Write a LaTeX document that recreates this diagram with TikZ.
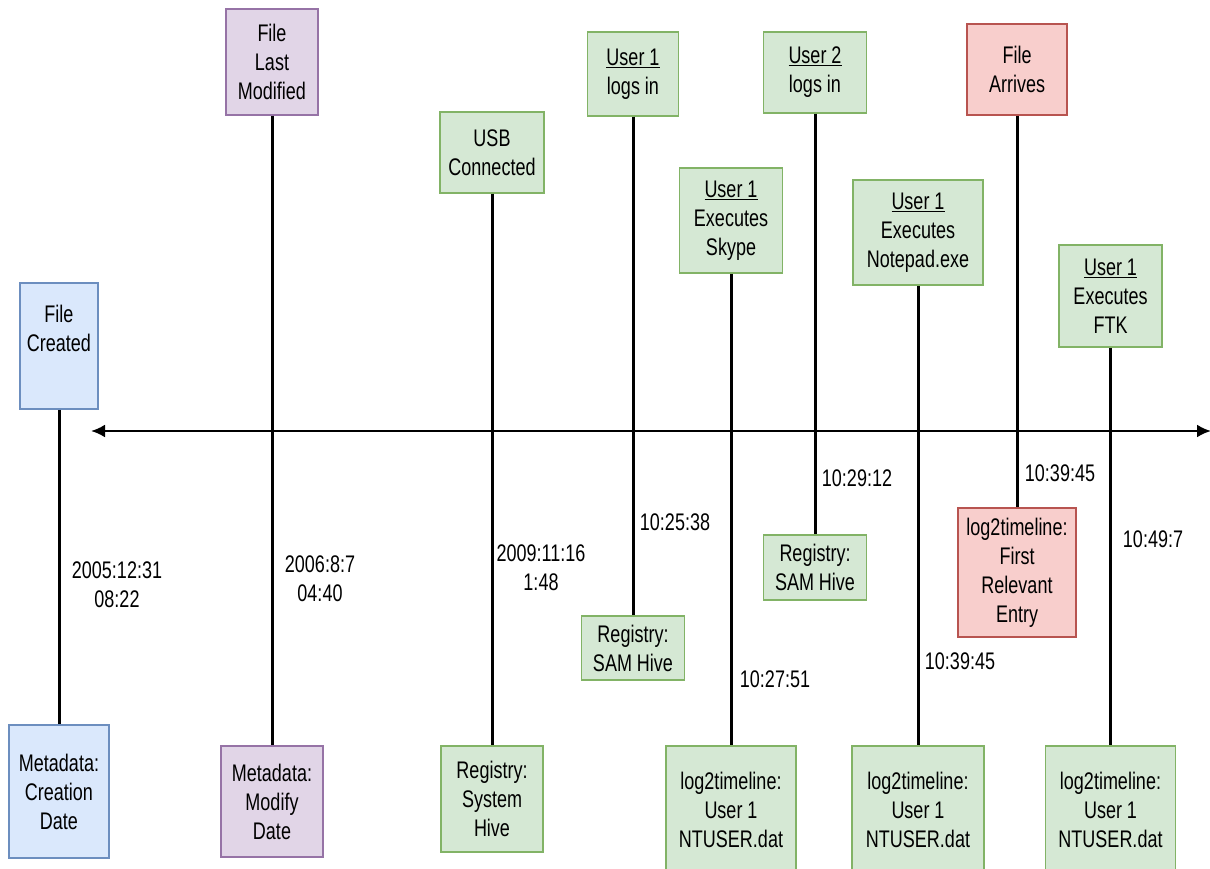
\documentclass[tikz,border=0pt]{standalone}
\usepackage{fontspec}
\setmainfont{Liberation Sans}[FakeStretch=0.75]
\usetikzlibrary{arrows.meta}
\definecolor{bluefill}{HTML}{DAE8FC}
\definecolor{blueline}{HTML}{6C8EBF}
\definecolor{purplefill}{HTML}{E1D5E7}
\definecolor{purpleline}{HTML}{9673A6}
\definecolor{greenfill}{HTML}{D5E8D4}
\definecolor{greenline}{HTML}{82B366}
\definecolor{redfill}{HTML}{F8CECC}
\definecolor{redline}{HTML}{B85450}
\tikzset{
every picture/.style={
line width=1.5pt
}}
\tikzset{
  evt/.style={rectangle, draw, align=center, inner sep=2pt,
    font=\fontsize{24}{29}\selectfont},
  bluebox/.style={evt, fill=bluefill, draw=blueline},
  purplebox/.style={evt, fill=purplefill, draw=purpleline},
  greenbox/.style={evt, fill=greenfill, draw=greenline},
  redbox/.style={evt, fill=redfill, draw=redline},
  stamp/.style={align=center, inner sep=0pt, font=\fontsize{24}{29}\selectfont},
  link/.style={line width=3pt}
}

\begin{document}
\begin{tikzpicture}[x=1pt,y=-1pt]
\useasboundingbox (0,0) rectangle (1210,869);
   % time axis
   \draw [line width=2.5pt, {Latex[length=14pt,width=13pt]}-{Latex[length=14pt,width=13pt]}]
     (91,431) -- (1211,431);
   % 
   % events above the axis:
   \node [bluebox, minimum width=78, minimum height=126] (created) at (59,346)
     {File\\Created\\[6pt]\mbox{}};
   \node [purplebox, minimum width=92, minimum height=106] (lastmod) at (272,62)
     {File\\Last\\Modified};
   \node [greenbox, minimum width=104, minimum height=81] (usb) at (492,152.5)
     {USB\\Connected};
   \node [greenbox, minimum width=91, minimum height=84] (login1) at (633,74)
     {\underline{User 1}\\logs in};
   \node [greenbox, minimum width=103, minimum height=105] (skype) at (731,220.5)
     {\underline{User 1}\\Executes\\Skype};
   \node [greenbox, minimum width=103, minimum height=81] (login2) at (815,72.5)
     {\underline{User 2}\\logs in};
   \node [greenbox, minimum width=130, minimum height=105] (notepad) at (918,232.5)
     {\underline{User 1}\\Executes\\Notepad.exe};
   \node [redbox, minimum width=100, minimum height=91] (arrives) at (1017,69.5)
     {File\\Arrives};
   \node [greenbox, minimum width=103, minimum height=102] (ftk) at (1110.5,296)
     {\underline{User 1}\\Executes\\FTK};
   % 
   % sources below the axis:
   \node [bluebox, minimum width=100, minimum height=133] (creation) at (59,791.5)
     {Metadata:\\Creation\\Date};
   \node [purplebox, minimum width=102, minimum height=111] (modify) at (272,801.5)
     {Metadata:\\Modify\\Date};
   \node [greenbox, minimum width=102, minimum height=106] (system) at (492,799)
     {Registry:\\System\\Hive};
   \node [greenbox, minimum width=103, minimum height=64] (sam1) at (633,648)
     {Registry:\\SAM Hive};
   \node [greenbox, minimum width=130, minimum height=128] (ntuser1) at (731,810)
     {log2timeline:\\User 1\\NTUSER.dat};
   \node [greenbox, minimum width=103, minimum height=65] (sam2) at (815,567.5)
     {Registry:\\SAM Hive};
   \node [greenbox, minimum width=132, minimum height=128] (ntuser2) at (918,810)
     {log2timeline:\\User 1\\NTUSER.dat};
   \node [redbox, minimum width=118, minimum height=129] (first) at (1017,572.5)
     {log2timeline:\\First\\Relevant\\Entry};
   \node [greenbox, minimum width=130, minimum height=128] (ntuser3) at (1110.5,810)
     {log2timeline:\\User 1\\NTUSER.dat};
   % 
   % links:
   \draw [link] (created) -- (creation);
   \draw [link] (lastmod) -- (modify);
   \draw [link] (usb) -- (system);
   \draw [link] (login1) -- (sam1);
   \draw [link] (skype) -- (ntuser1);
   \draw [link] (login2) -- (sam2);
   \draw [link] (notepad) -- (ntuser2);
   \draw [link] (arrives) -- (first);
   \draw [link] (ftk) -- (ntuser3);
   % 
   % time stamps:
   \node [stamp] (t1) at (117,585) {2005:12:31\\08:22};
   \node [stamp] (t2) at (320,579) {2006:8:7\\04:40};
   \node [stamp] (t3) at (541,568) {2009:11:16\\1:48};
   \node [stamp] (t4) at (675,522) {10:25:38};
   \node [stamp] (t5) at (775,679) {10:27:51};
   \node [stamp] (t6) at (857,478) {10:29:12};
   \node [stamp] (t7) at (960,661) {10:39:45};
   \node [stamp] (t8) at (1060,473) {10:39:45};
   \node [stamp] (t9) at (1153,539) {10:49:7};
\end{tikzpicture}
\end{document}
